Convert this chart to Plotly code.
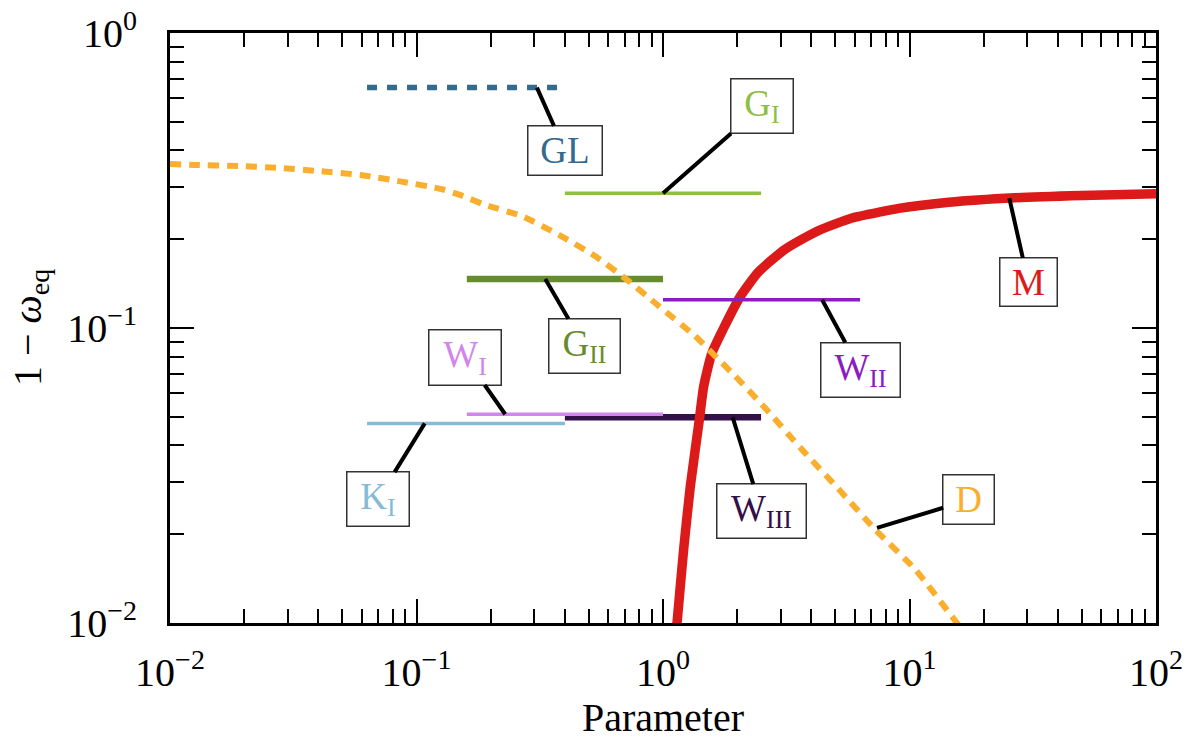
import numpy as np
import plotly.graph_objects as go

# ---------------- data ----------------
level_names = ["K_I", "W_III", "W_I", "G_II", "G_I", "GL", "W_II"]
level_x0 = [0.063, 0.40, 0.16, 0.16, 0.40, 0.063, 1.0]
level_x1 = [0.40, 2.5, 1.0, 1.0, 2.5, 0.40, 6.3]
level_y = [0.0475, 0.0498, 0.0510, 0.1466, 0.2865, 0.653, 0.1247]

m_x = [1.12, 1.14, 1.213, 1.291, 1.404, 1.463, 1.58, 1.763, 2.059, 2.444, 3.134,
       4.282, 5.845, 7.73, 9.04, 14.42, 26.8, 50.1, 100.0]
m_y = [0.0085, 0.0100, 0.0178, 0.0291, 0.0489, 0.0635, 0.0823, 0.100, 0.128, 0.1550, 0.185,
       0.2140, 0.2360, 0.2480, 0.2545, 0.2670, 0.2765, 0.2815, 0.2850]

d_x = [0.01, 0.0126, 0.019, 0.0276, 0.040, 0.060, 0.087, 0.127, 0.150, 0.190, 0.268,
       0.378, 0.530, 0.726, 0.961, 1.349, 1.683, 1.960, 2.593, 3.664, 5.32, 7.24,
       10.53, 15.3, 16.5]
d_y = [0.360, 0.357, 0.354, 0.349, 0.3405, 0.3295, 0.3135, 0.2954, 0.2826, 0.2614, 0.2393,
       0.2069, 0.1753, 0.1442, 0.1187, 0.0939, 0.0781, 0.0688, 0.0536, 0.0387, 0.02764, 0.02077,
       0.01521, 0.0102, 0.0094]

x_tick_vals = [0.01, 0.1, 1, 10, 100]
x_tick_text = ["10<sup>−2</sup>", "10<sup>−1</sup>", "10<sup>0</sup>", "10<sup>1</sup>", "10<sup>2</sup>"]
y_tick_vals = [0.01, 0.1, 1]
y_tick_text = ["10<sup>−2</sup>", "10<sup>−1</sup>", "10<sup>0</sup>"]

x_title = "Parameter"
y_title = "1 − <i>ω</i><sub>eq</sub>"

# ---------------- styles ----------------
SERIF = "Liberation Serif"
level_style = {
    "K_I":   dict(color="#86bbd8", width=3.5, dash="solid"),
    "W_III": dict(color="#33104a", width=6.5, dash="solid"),
    "W_I":   dict(color="#d186ec", width=3.5, dash="solid"),
    "G_II":  dict(color="#678c2e", width=6.5, dash="solid"),
    "G_I":   dict(color="#8dbf45", width=3.5, dash="solid"),
    "GL":    dict(color="#336a8e", width=5.5, dash="10px,10px"),
    "W_II":  dict(color="#8b1cbf", width=3.5, dash="solid"),
}
M_COLOR = "#dc1a1a"
D_COLOR = "#f9ae2e"

fig = go.Figure()

for name, x0, x1, y in zip(level_names, level_x0, level_x1, level_y):
    if name == "W_II":
        continue
    fig.add_trace(go.Scatter(x=[x0, x1], y=[y, y], mode="lines",
                             line=level_style[name], name=name, hoverinfo="skip"))

fig.add_trace(go.Scatter(x=m_x, y=m_y, mode="lines",
                         line=dict(color=M_COLOR, width=9.5, shape="spline", smoothing=0.6),
                         name="M", hoverinfo="skip"))

i = level_names.index("W_II")
fig.add_trace(go.Scatter(x=[level_x0[i], level_x1[i]], y=[level_y[i], level_y[i]], mode="lines",
                         line=level_style["W_II"], name="W_II", hoverinfo="skip"))

fig.add_trace(go.Scatter(x=d_x, y=d_y, mode="lines",
                         line=dict(color=D_COLOR, width=6, dash="11px,8px", shape="spline", smoothing=0.6),
                         name="D", hoverinfo="skip"))

# (text, anchor x, anchor y, box offset px dx, dy, box w, h, colour)
labels = [
    ("GL", 0.308, 0.653, 28, 63, 73, 48, "#336a8e"),
    ("G<sub>I</sub>", 1.0, 0.2865, 99, -87, 61, 53, "#8dbf45"),
    ("G<sub>II</sub>", 0.333, 0.1466, 39, 67, 70, 53, "#678c2e"),
    ("W<sub>II</sub>", 4.42, 0.1247, 38, 70, 78, 53, "#8b1cbf"),
    ("W<sub>I</sub>", 0.229, 0.0510, -40, -57, 71, 54, "#d186ec"),
    ("K<sub>I</sub>", 0.108, 0.0475, -47, 76, 61, 53, "#86bbd8"),
    ("W<sub>III</sub>", 1.917, 0.0498, 29, 94, 88, 53, "#33104a"),
    ("D", 7.38, 0.0210, 92, -28, 50, 48, D_COLOR),
    ("M", 25.4, 0.2755, 19, 84, 56, 47, M_COLOR),
]
for text, xa, ya, dx, dy, w, h, col in labels:
    fig.add_annotation(x=np.log10(xa), y=np.log10(ya), xref="x", yref="y",
                       text=text, showarrow=True, arrowhead=0, arrowwidth=4, arrowcolor="black",
                       ax=dx, ay=dy, width=w, height=h, bgcolor="white",
                       bordercolor="#333333", borderwidth=1.5, borderpad=0,
                       font=dict(family=SERIF, size=37, color=col),
                       align="center", valign="middle")

# y-axis title as a rotated annotation (placed left of the tick labels)
fig.add_annotation(x=0, y=0.5, xref="paper", yref="paper", xanchor="center", yanchor="middle",
                   xshift=-140, text=y_title, textangle=-90, showarrow=False,
                   font=dict(family=SERIF, size=40, color="black"))

def minor_vals(lo, hi):
    vals = []
    for e in range(lo, hi):
        for k in range(2, 10):
            vals.append(k * 10.0 ** e)
    return vals

axis_common = dict(type="log", showline=True, linewidth=3, linecolor="black", mirror="allticks",
                   ticks="inside", ticklen=24, tickwidth=2, tickcolor="black", showgrid=False,
                   zeroline=False, tickmode="array", automargin=False, ticklabeloverflow="allow",
                   tickfont=dict(family=SERIF, size=40, color="black"))

fig.update_xaxes(**axis_common, range=[-2, 2], tickvals=x_tick_vals, ticktext=x_tick_text,
                 ticklabelstandoff=12,
                 minor=dict(ticks="inside", ticklen=14, tickwidth=2, tickcolor="black",
                            tickmode="array", tickvals=minor_vals(-2, 2), showgrid=False),
                 title=dict(text=x_title, standoff=0,
                            font=dict(family=SERIF, size=40, color="black")))
fig.update_yaxes(**axis_common, range=[-2, 0], tickvals=y_tick_vals, ticktext=y_tick_text,
                 ticklabelstandoff=22,
                 minor=dict(ticks="inside", ticklen=14, tickwidth=2, tickcolor="black",
                            tickmode="array", tickvals=minor_vals(-2, 0), showgrid=False))

fig.update_layout(width=1200, height=737, margin=dict(l=162, r=52, t=25, b=122),
                  plot_bgcolor="white", paper_bgcolor="white", showlegend=False,
                  font=dict(family=SERIF, size=40, color="black"))

fig.write_html("out.html")
